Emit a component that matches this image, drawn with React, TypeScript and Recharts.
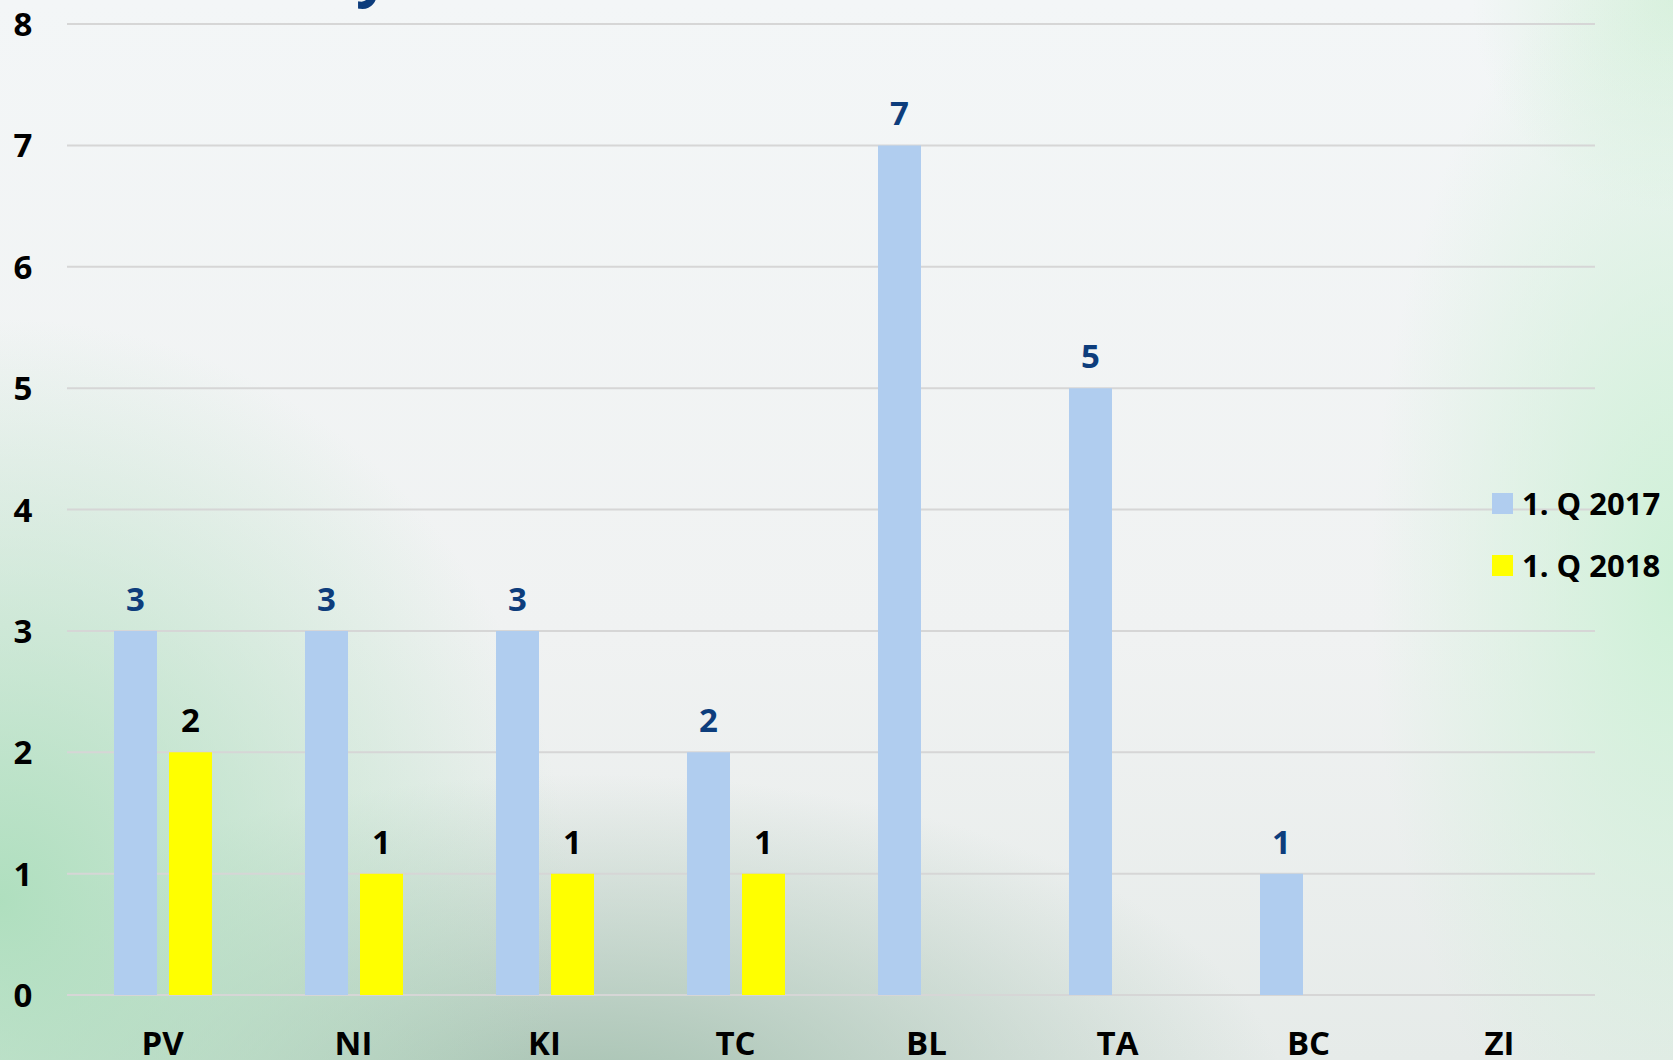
import { BarChart, Bar, XAxis, YAxis, CartesianGrid, LabelList } from "recharts";

const regions = ["PV", "NI", "KI", "TC", "BL", "TA", "BC", "ZI"];
const q2017 = [3, 3, 3, 2, 7, 5, 1, 0];
const q2018 = [2, 1, 1, 1, 0, 0, 0, 0];
const yTicks = [0, 1, 2, 3, 4, 5, 6, 7, 8];

const seriesNames = ["1. Q 2017", "1. Q 2018"];
const blueBar = "#b0cdef";
const yellowBar = "#ffff00";
const navy = "#0d3d7c";
const font = "'Open Sans', sans-serif";

const data = regions.map((region, i) => ({
  region,
  q2017: q2017[i],
  q2018: q2018[i],
}));

const YTick = ({ y, payload }: any) => (
  <text x={23} y={y} dy={12} textAnchor="middle" fontFamily={font} fontWeight={700} fontSize={33} fill="#000">
    {payload.value}
  </text>
);

const XTick = ({ x, y, payload }: any) => (
  <text x={x} y={y} dy={52} textAnchor="middle" fontFamily={font} fontWeight={700} fontSize={33} fill="#000">
    {payload.value}
  </text>
);

const hideZero = (v: any) => (v === 0 ? "" : v);

// legend sits at the right, outside the plot area
const LegendBox = () => (
  <div
    style={{
      position: "absolute",
      left: 1492,
      top: 472,
      fontFamily: font,
      fontWeight: 700,
      fontSize: 31,
      color: "#000",
      whiteSpace: "nowrap",
    }}
  >
    {seriesNames.map((name, i) => (
      <div key={name} style={{ display: "flex", alignItems: "center", height: 62 }}>
        <span style={{ width: 21, height: 21, background: i === 0 ? blueBar : yellowBar, marginRight: 9 }} />
        <span>{name}</span>
      </div>
    ))}
  </div>
);

export default function App() {
  return (
    <div
      style={{
        position: "absolute",
        left: 0,
        top: 0,
        width: 1673,
        height: 1060,
        overflow: "hidden",
        background:
          "radial-gradient(ellipse 34% 55% at 0% 85%, rgba(172,222,188,0.95), rgba(172,222,188,0) 100%)," +
          "radial-gradient(ellipse 42% 32% at 35% 105%, rgba(160,190,172,0.95), rgba(160,190,172,0) 100%)," +
          "radial-gradient(ellipse 18% 60% at 100% 55%, rgba(205,240,214,0.95), rgba(205,240,214,0) 100%)," +
          "radial-gradient(ellipse 12% 20% at 100% 0%, rgba(215,240,220,0.9), rgba(215,240,220,0) 100%)," +
          "linear-gradient(180deg, #f3f6f7 0%, #f0f2f2 60%, #e6ebe9 100%)",
      }}
    >
      <span
        style={{
          position: "absolute",
          left: 356,
          top: -59,
          fontFamily: font,
          fontWeight: 700,
          fontSize: 60,
          lineHeight: 1,
          color: navy,
        }}
      >
        y
      </span>
      <BarChart
        width={1673}
        height={1060}
        data={data}
        margin={{ top: 24, right: 78, bottom: 35, left: 0 }}
        barSize={43}
        barGap={12}
        style={{ position: "absolute", left: 0, top: 0 }}
      >
        <CartesianGrid vertical={false} stroke="#d6d6d6" strokeWidth={2} />
        <XAxis dataKey="region" height={30} axisLine={false} tickLine={false} tick={<XTick />} interval={0} />
        <YAxis
          width={67}
          domain={[0, 8]}
          ticks={yTicks}
          axisLine={false}
          tickLine={false}
          tick={<YTick />}
        />
        <Bar dataKey="q2017" name={seriesNames[0]} fill={blueBar} isAnimationActive={false}>
          <LabelList
            dataKey="q2017"
            position="top"
            offset={20}
            formatter={hideZero}
            fill={navy}
            fontFamily={font}
            fontWeight={700}
            fontSize={33}
          />
        </Bar>
        <Bar dataKey="q2018" name={seriesNames[1]} fill={yellowBar} isAnimationActive={false}>
          <LabelList
            dataKey="q2018"
            position="top"
            offset={20}
            formatter={hideZero}
            fill="#000"
            fontFamily={font}
            fontWeight={700}
            fontSize={33}
          />
        </Bar>
      </BarChart>
      <LegendBox />
    </div>
  );
}
